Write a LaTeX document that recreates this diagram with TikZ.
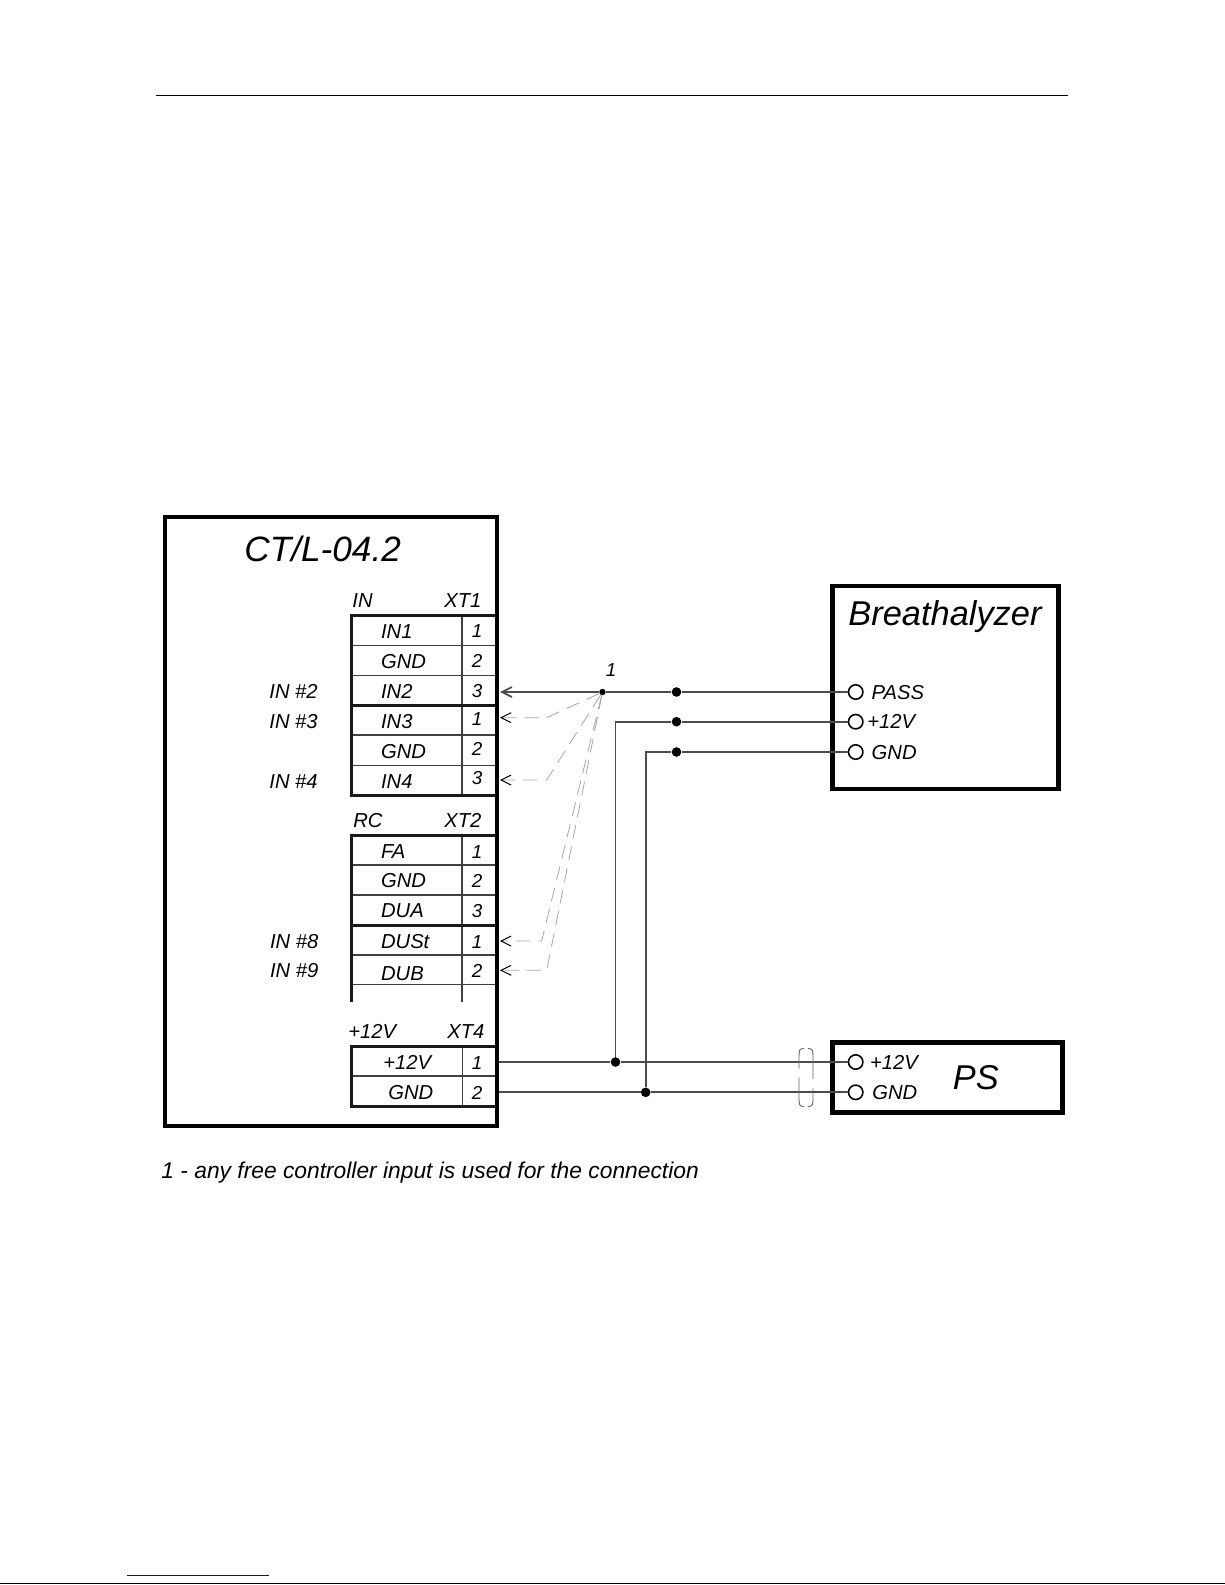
\documentclass[tikz,border=0pt]{standalone}
\usepackage{fontspec}
\setmainfont{Liberation Sans}
\usetikzlibrary{arrows.meta}
\definecolor{linkblue}{RGB}{0,0,204}
\tikzset{
  lbl/.style={anchor=base west,inner sep=0pt,xshift=-.5pt,font=\fontsize{10.1}{12}\selectfont\itshape,text=black},
  num/.style={anchor=base,inner sep=0pt,font=\fontsize{9.4}{12}\selectfont\itshape,text=black},
  bigbox/.style={draw,line width=2.4pt,inner sep=0pt,outer sep=0pt},
  title/.style={anchor=base west,inner sep=0pt,font=\fontsize{17.2}{20}\selectfont\itshape,text=black},
  pinc/.style={circle,draw,fill=white,line width=.8pt,inner sep=0pt,minimum size=7.2pt},
  dotn/.style={circle,fill=black,inner sep=0pt,minimum size=4.8pt},
  wire/.style={line width=.85pt,draw=black!70},
  thinrow/.style={line width=.75pt,draw=black!75},
  thickrow/.style={line width=1.5pt,draw=black!90},
  dashwire/.style={line width=.4pt,draw=black!35,dash pattern=on 7pt off 4pt,
    -{Straight Barb[length=5pt,width=5pt,color=black,line width=.5pt]}},
  shield/.style={line width=.45pt,draw=black!60}
}
\begin{document}
\begin{tikzpicture}[x=.5pt,y=-.5pt]
\useasboundingbox (0,0) rectangle (1225,1585);
% Page rules
\coordinate (ruleL) at (156,95.3);
\coordinate (ruleR) at (1068,95.3);
\draw[line width=.65pt] (ruleL) -- (ruleR);
\coordinate (linkL) at (127,1575);
\coordinate (linkR) at (269,1575);
\draw[linkblue,line width=.5pt] (linkL) -- (linkR);
\coordinate (footL) at (0,1583.7);
\coordinate (footR) at (1225,1583.7);
\draw[line width=.5pt] (footL) -- (footR);

% Controller
\node (ctl) at (331,821.5) [bigbox,minimum width=166pt,minimum height=304.5pt] {};
\node (ctlname) at (244,561.7) [title,font=\fontsize{17.6}{20}\selectfont\itshape] {CT/L-04.2};

% XT1
\node (inhead) at (353,607.5) [lbl] {IN};
\node (xt1head) at (445,607.5) [lbl] {XT1};
\draw[thinrow] (351.7,645.7) -- (495,645.7);
\draw[thinrow] (351.7,675.7) -- (495,675.7);
\draw[thinrow] (351.7,735) -- (495,735);
\draw[thinrow] (351.7,765.7) -- (495,765.7);
\draw[thinrow] (462,615) -- (462,795.3);
\draw[thickrow] (495,615) -- (351.7,615) -- (351.7,795.3) -- (495,795.3);
\draw[thickrow] (351.7,705) -- (495,705);
\node (in1) at (381.7,638.5) [lbl] {IN1};
\node (gnda) at (381.7,668) [lbl] {GND};
\node (in2) at (381.7,698) [lbl] {IN2};
\node (in3) at (381.7,728) [lbl] {IN3};
\node (gndb) at (381.7,758) [lbl] {GND};
\node (in4) at (381.7,788) [lbl] {IN4};
\node (na1) at (477,637.5) [num] {1};
\node (na2) at (477,667) [num] {2};
\node (na3) at (477,697) [num] {3};
\node (na4) at (477,725.5) [num] {1};
\node (na5) at (477,755.5) [num] {2};
\node (na6) at (477,784.5) [num] {3};
\node (side2) at (270,698) [lbl] {IN \#2};
\node (side3) at (270,728) [lbl] {IN \#3};
\node (side4) at (270,788) [lbl] {IN \#4};

% XT2
\node (rchead) at (354,827.3) [lbl] {RC};
\node (xt2head) at (445,827.3) [lbl] {XT2};
\draw[thinrow] (351.7,865) -- (495,865);
\draw[thinrow] (351.7,895) -- (495,895);
\draw[thinrow] (351.7,955) -- (495,955);
\draw[thinrow] (351.7,984.3) -- (495,984.3);
\draw[thinrow] (462,835) -- (462,1002.3);
\draw[thickrow] (495,835) -- (351.7,835) -- (351.7,1002.3);
\draw[thickrow] (351.7,925.7) -- (495,925.7);
\node (fa) at (381.7,858) [lbl] {FA};
\node (gndc) at (381.7,887.7) [lbl] {GND};
\node (dua) at (381.7,917.7) [lbl] {DUA};
\node (dust) at (381.7,948.3) [lbl] {DUSt};
\node (dub) at (381.7,980) [lbl] {DUB};
\node (nb1) at (477,858) [num] {1};
\node (nb2) at (477,887) [num] {2};
\node (nb3) at (477,917) [num] {3};
\node (nb4) at (477,948) [num] {1};
\node (nb5) at (477,977.7) [num] {2};
\node (side8) at (270.7,948) [lbl] {IN \#8};
\node (side9) at (270.7,977.7) [lbl] {IN \#9};

% XT4
\node (pwhead) at (349,1038.3) [lbl] {+12V};
\node (xt4head) at (448,1038.3) [lbl] {XT4};
\draw[thinrow] (351.7,1076) -- (495,1076);
\draw[thinrow] (462.7,1046) -- (462.7,1106);
\draw[thickrow] (495,1046) -- (351.7,1046) -- (351.7,1106) -- (495,1106);
\node (pw) at (384,1069) [lbl] {+12V};
\node (gndd) at (389,1099.3) [lbl] {GND};
\node (nc1) at (477,1069) [num] {1};
\node (nc2) at (477,1099) [num] {2};

% Breathalyzer
\node (breath) at (945.8,687.5) [bigbox,minimum width=113pt,minimum height=101.5pt] {};
\node (breathname) at (848,625) [title] {Breathalyzer};
\node (pinpass) at (855.7,692) [pinc] {};
\node (pinvb) at (855.7,721.7) [pinc] {};
\node (pingb) at (855.7,752) [pinc] {};
\node (lblpass) at (872.3,699) [lbl] {PASS};
\node (lblvb) at (868,728) [lbl] {+12V};
\node (lblgb) at (872.3,759) [lbl] {GND};

% PS
\node (ps) at (947.5,1077.5) [bigbox,minimum width=115.2pt,minimum height=35pt] {};
\node (psname) at (952.5,1089) [title] {PS};
\node (pinvp) at (855.7,1062) [pinc] {};
\node (pingp) at (855.7,1092.3) [pinc] {};
\node (lblvp) at (870.7,1069) [lbl] {+12V};
\node (lblgp) at (873,1099.3) [lbl] {GND};

% Junctions
\node (jn) at (602.5,692) [circle,fill=black,inner sep=0pt,minimum size=3.2pt] {};
\node (jnlbl) at (611,676) [num] {1};
\node (dotp) at (676.5,692) [dotn] {};
\node (dotv) at (676.5,721.7) [dotn] {};
\node (dotg) at (676.5,752) [dotn] {};
\node (dotvp) at (615.5,1062) [dotn] {};
\node (dotgp) at (645.7,1092.3) [dotn] {};
\coordinate (cornv) at (615.5,721.7);
\coordinate (corng) at (645.7,752);
\coordinate (xt4a) at (499,1062);
\coordinate (xt4b) at (499,1092.3);

% Wires
\draw[wire,-{Straight Barb[length=5pt,width=5pt]}] (jn) -- (500,692) coordinate (tipa);
\draw[wire] (jn) -- (dotp) -- (pinpass);
\draw[wire] (pinvb) -- (dotv) -- (cornv) -- (dotvp);
\draw[wire] (pingb) -- (dotg) -- (corng) -- (dotgp);
\draw[wire] (xt4a) -- (dotvp) -- (pinvp);
\draw[wire] (xt4b) -- (dotgp) -- (pingp);

% Free inputs
\coordinate (tipb) at (500,717.7);
\coordinate (tipc) at (500,780);
\coordinate (tipd) at (500,941);
\coordinate (tipe) at (500,970.3);
\coordinate (bendb) at (546.7,717.7);
\coordinate (bendc) at (546.7,780);
\coordinate (bendd) at (541.7,941);
\coordinate (bende) at (546.7,970.3);
\draw[dashwire] (jn) -- (bendb) -- (tipb);
\draw[dashwire] (jn) -- (bendc) -- (tipc);
\draw[dashwire] (jn) -- (bendd) -- (tipd);
\draw[dashwire] (jn) -- (bende) -- (tipe);

% Shield
\draw[shield] (804,1048.5) .. controls (799,1049) .. (799,1060) -- (799,1068.5);
\draw[shield] (799,1077.5) -- (799,1095) .. controls (799,1106) .. (804,1106.5);
\draw[shield] (808,1048.5) .. controls (813,1049) .. (813,1060) -- (813,1079);
\draw[shield] (813,1088.3) -- (813,1095) .. controls (813,1106) .. (808,1106.5);

% Note
\node (note) at (161,1178) [anchor=base west,inner sep=0pt,font=\fontsize{11.4}{13}\selectfont\itshape,text=black] {1 - any free controller input is used for the connection};
\end{tikzpicture}
\end{document}
